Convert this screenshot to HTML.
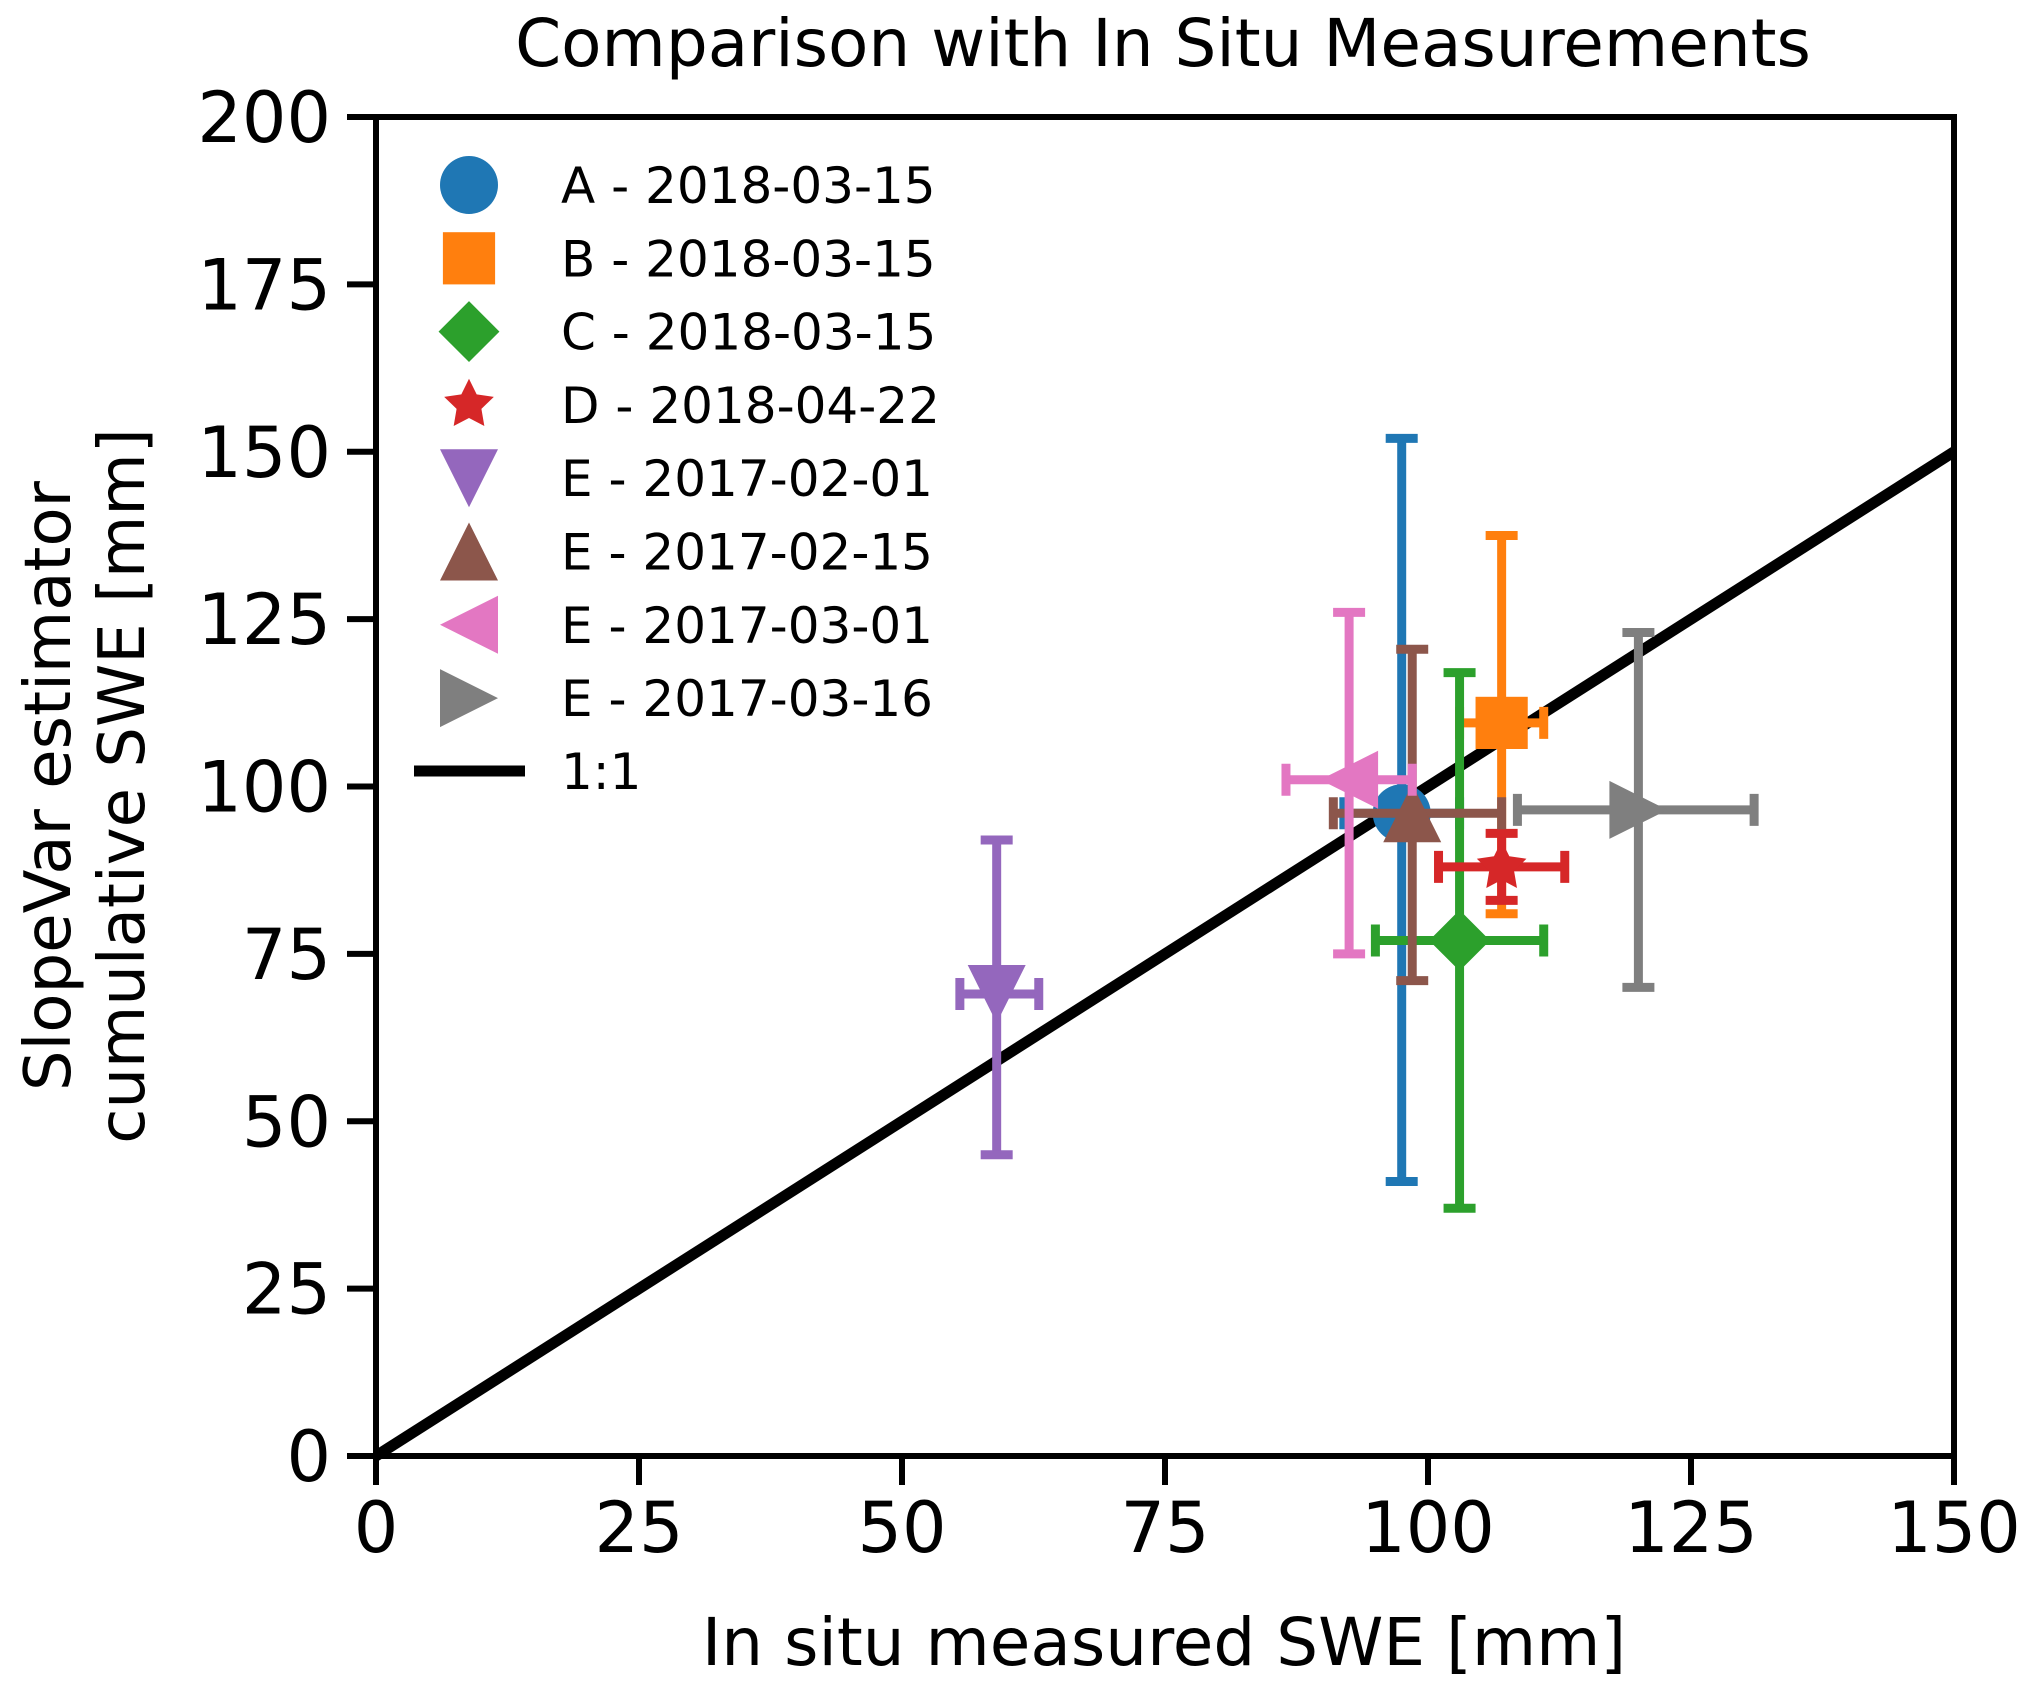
<!DOCTYPE html>
<html><head><meta charset="utf-8"><style>
html,body{margin:0;padding:0;background:#fff}
svg{display:block;font-family:"DejaVu Sans","Liberation Sans",sans-serif}
</style></head><body>
<svg id="chart" width="2031" height="1691" viewBox="0 0 2031 1691">
<text x="1163" y="66" font-size="66" text-anchor="middle">Comparison with In Situ Measurements</text>
<g id="grid"></g>
<g id="marks"></g>
<g id="legend"></g>
<text x="1164" y="1665" font-size="66" text-anchor="middle">In situ measured SWE [mm]</text>
<text transform="translate(70,786) rotate(-90)" font-size="64" text-anchor="middle"><tspan x="0" dy="0">SlopeVar estimator</tspan><tspan x="0" dy="74">cumulative SWE [mm]</tspan></text>
</svg>
<script>
const labels=["A - 2018-03-15","B - 2018-03-15","C - 2018-03-15","D - 2018-04-22","E - 2017-02-01","E - 2017-02-15","E - 2017-03-01","E - 2017-03-16"];
const colors=["#1f77b4","#ff7f0e","#2ca02c","#d62728","#9467bd","#8c564b","#e377c2","#7f7f7f"];
const shapes=["circle","square","diamond","star","tdown","tup","tleft","tright"];
const xVals=[97.5,107,103,107,59,98.5,92.5,120];
const yVals=[96,109.5,77,88,69,96,101,96.5];
const xLo=[92,103,95,101,55.5,91,86.5,108.5];
const xHi=[103,111,111,113,63,107,98.5,131];
const yLo=[41,81,37,83,45,71,75,70];
const yHi=[152,137.5,117,93,92,120.5,126,123];
const xTicks=[0,25,50,75,100,125,150];
const yTicks=[0,25,50,75,100,125,150,175,200];
const L=376,R=1954,T=117,B=1456;
const sx=v=>L+(v-0)/150*(R-L);
const sy=v=>B-(v-0)/200*(B-T);
const NS="http://www.w3.org/2000/svg";
function mk(tag,attrs,parent){const e=document.createElementNS(NS,tag);for(const k in attrs)e.setAttribute(k,attrs[k]);parent.appendChild(e);return e;}
const grid=document.getElementById('grid'),marks=document.getElementById('marks'),leg=document.getElementById('legend');
function shape(s,cx,cy,r,c,parent){
  let e;
  if(s==="circle")e=mk('circle',{cx:cx,cy:cy,r:r,fill:c},parent);
  else if(s==="square")e=mk('rect',{x:cx-r*0.9,y:cy-r*0.9,width:r*1.8,height:r*1.8,fill:c},parent);
  else{
    let pts;
    if(s==="diamond")pts=[[0,-r*1.05],[r*1.05,0],[0,r*1.05],[-r*1.05,0]];
    else if(s==="tdown")pts=[[-r,-r],[r,-r],[0,r]];
    else if(s==="tup")pts=[[-r,r],[r,r],[0,-r]];
    else if(s==="tleft")pts=[[r,-r],[r,r],[-r,0]];
    else if(s==="tright")pts=[[-r,-r],[-r,r],[r,0]];
    else{pts=[];for(let i=0;i<10;i++){const a=-Math.PI/2+i*Math.PI/5;const rr=i%2?r*0.45:r*0.9;pts.push([rr*Math.cos(a),rr*Math.sin(a)]);}}
    e=mk('polygon',{points:pts.map(p=>(cx+p[0])+','+(cy+p[1])).join(' '),fill:c},parent);
  }
  return e;
}
xTicks.forEach(v=>{
  const t=mk('line',{x1:sx(v),x2:sx(v),y1:B,y2:B+29,stroke:'#000','stroke-width':6},grid);
  
  
  const l=mk('text',{x:sx(v),y:B+96,'font-size':70,'text-anchor':'middle'},grid);l.textContent=v;
  
  
});
yTicks.forEach(v=>{
  const t=mk('line',{x1:L-29,x2:L,y1:sy(v),y2:sy(v),stroke:'#000','stroke-width':6},grid);
  
  
  const l=mk('text',{x:L-45,y:sy(v)+25,'font-size':70,'text-anchor':'end'},grid);l.textContent=v;
  
  
});
const one=mk('line',{x1:sx(0),y1:sy(0),x2:sx(150),y2:sy(150),stroke:'#000','stroke-width':11},marks);


labels.forEach((lab,i)=>{
  const g=mk('g',{},marks);
  
  
  const c=colors[i],w=9,cap=16;
  mk('line',{x1:sx(xVals[i]),x2:sx(xVals[i]),y1:sy(yLo[i]),y2:sy(yHi[i]),stroke:c,'stroke-width':w},g);
  mk('line',{x1:sx(xLo[i]),x2:sx(xHi[i]),y1:sy(yVals[i]),y2:sy(yVals[i]),stroke:c,'stroke-width':w},g);
  [yLo[i],yHi[i]].forEach(v=>mk('line',{x1:sx(xVals[i])-cap,x2:sx(xVals[i])+cap,y1:sy(v),y2:sy(v),stroke:c,'stroke-width':w},g));
  [xLo[i],xHi[i]].forEach(v=>mk('line',{x1:sx(v),x2:sx(v),y1:sy(yVals[i])-cap,y2:sy(yVals[i])+cap,stroke:c,'stroke-width':w},g));
  const m=shape(shapes[i],sx(xVals[i]),sy(yVals[i]),29,c,g);
  
  
  const ly=185+i*73.3;
  const lm=shape(shapes[i],469,ly,29,c,leg);
  
  
  const lt=mk('text',{x:561,y:ly+18,'font-size':50},leg);lt.textContent=lab;
  
  
});
const ll=mk('line',{x1:414,x2:525,y1:771,y2:771,stroke:'#000','stroke-width':11},leg);


const lt=mk('text',{x:561,y:789,'font-size':50},leg);lt.textContent='1:1';


const fr=mk('rect',{x:L,y:T,width:R-L,height:B-T,fill:'none',stroke:'#000','stroke-width':6},grid);


</script>
</body></html>
